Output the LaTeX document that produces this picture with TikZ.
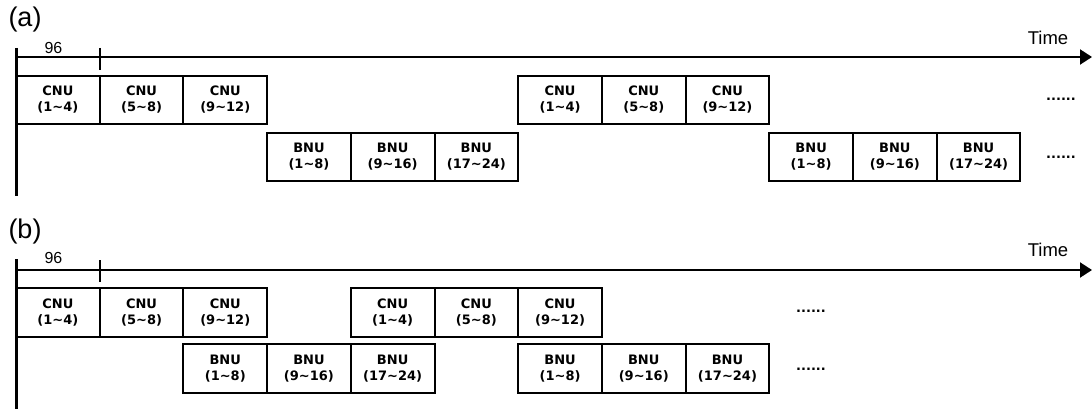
\documentclass[tikz,border=0pt]{standalone}
\usepackage{fontspec}
\setmainfont{Liberation Sans}
\newfontfamily\boxfont{DejaVu Sans}
\usetikzlibrary{positioning,arrows.meta}
\tikzset{
	unitbox/.style={draw, line width=2pt, minimum width=83.7pt, minimum height=48.5pt, inner sep=0pt, outer sep=0pt, align=center, font=\boxfont\bfseries\fontsize{13}{16}\selectfont},
	timeaxis/.style={line width=2pt, -{Triangle[length=12pt,width=15pt]}},
	startaxis/.style={line width=3pt},
	tickline/.style={line width=2pt},
	moredots/.style={font=\boxfont\bfseries\fontsize{13}{14}\selectfont, inner sep=0pt},
	axislabel/.style={font=\fontsize{16}{18}\selectfont, inner sep=0pt},
	timelabel/.style={font=\fontsize{18.5}{20}\selectfont, inner sep=0pt},
	partlabel/.style={font=\fontsize{27}{29}\selectfont, inner sep=0pt}
}

\begin{document}
\begin{tikzpicture}[x=1pt, y=-1pt]
		%%%%% START %%%%%
		\useasboundingbox (0, 0) rectangle (1092, 409);
		
		% (a)
		\node[partlabel] (alabel) at (25, 20) {(a)};
		\coordinate (aorig) at (16, 57);
		\coordinate (aend) at (1092, 57);
		\coordinate (atop) at (16, 48);
		\coordinate (abot) at (16, 196);
		\coordinate (aticktop) at (99.7, 48);
		\coordinate (atickbot) at (99.7, 70);
		\draw[timeaxis] (aorig) -- (aend);
		\draw[startaxis] (atop) -- (abot);
		\draw[tickline] (aticktop) -- (atickbot);
		\node[axislabel] (aperiod) at (53.5, 48) {96};
		\node[timelabel] (atime) at (1048, 38) {Time};
		
		\node[unitbox] (acnu1) at (57.85, 100) {CNU\\(1\textasciitilde4)};
		\node[unitbox, right=0pt of acnu1] (acnu2) {CNU\\(5\textasciitilde8)};
		\node[unitbox, right=0pt of acnu2] (acnu3) {CNU\\(9\textasciitilde12)};
		\node[unitbox] (acnu4) at (560.05, 100) {CNU\\(1\textasciitilde4)};
		\node[unitbox, right=0pt of acnu4] (acnu5) {CNU\\(5\textasciitilde8)};
		\node[unitbox, right=0pt of acnu5] (acnu6) {CNU\\(9\textasciitilde12)};
		
		\node[unitbox] (abnu1) at (308.95, 157) {BNU\\(1\textasciitilde8)};
		\node[unitbox, right=0pt of abnu1] (abnu2) {BNU\\(9\textasciitilde16)};
		\node[unitbox, right=0pt of abnu2] (abnu3) {BNU\\(17\textasciitilde24)};
		\node[unitbox] (abnu4) at (811.15, 157) {BNU\\(1\textasciitilde8)};
		\node[unitbox, right=0pt of abnu4] (abnu5) {BNU\\(9\textasciitilde16)};
		\node[unitbox, right=0pt of abnu5] (abnu6) {BNU\\(17\textasciitilde24)};
		
		\node[moredots] (adots1) at (1061, 99) {......};
		\node[moredots] (adots2) at (1061, 157) {......};
		
		% (b)
		\node[partlabel] (blabel) at (25, 232) {(b)};
		\coordinate (borig) at (16, 270);
		\coordinate (bend) at (1092, 270);
		\coordinate (btop) at (16, 259);
		\coordinate (bbot) at (16, 409);
		\coordinate (bticktop) at (99.7, 260);
		\coordinate (btickbot) at (99.7, 282);
		\draw[timeaxis] (borig) -- (bend);
		\draw[startaxis] (btop) -- (bbot);
		\draw[tickline] (bticktop) -- (btickbot);
		\node[axislabel] (bperiod) at (53.5, 258) {96};
		\node[timelabel] (btime) at (1048, 250) {Time};
		
		\node[unitbox] (bcnu1) at (57.85, 312.5) {CNU\\(1\textasciitilde4)};
		\node[unitbox, right=0pt of bcnu1] (bcnu2) {CNU\\(5\textasciitilde8)};
		\node[unitbox, right=0pt of bcnu2] (bcnu3) {CNU\\(9\textasciitilde12)};
		\node[unitbox] (bcnu4) at (392.65, 312.5) {CNU\\(1\textasciitilde4)};
		\node[unitbox, right=0pt of bcnu4] (bcnu5) {CNU\\(5\textasciitilde8)};
		\node[unitbox, right=0pt of bcnu5] (bcnu6) {CNU\\(9\textasciitilde12)};
		
		\node[unitbox] (bbnu1) at (225.25, 368.5) {BNU\\(1\textasciitilde8)};
		\node[unitbox, right=0pt of bbnu1] (bbnu2) {BNU\\(9\textasciitilde16)};
		\node[unitbox, right=0pt of bbnu2] (bbnu3) {BNU\\(17\textasciitilde24)};
		\node[unitbox] (bbnu4) at (560.05, 368.5) {BNU\\(1\textasciitilde8)};
		\node[unitbox, right=0pt of bbnu4] (bbnu5) {BNU\\(9\textasciitilde16)};
		\node[unitbox, right=0pt of bbnu5] (bbnu6) {BNU\\(17\textasciitilde24)};
		
		\node[moredots] (bdots1) at (811, 311) {......};
		\node[moredots] (bdots2) at (811, 369) {......};
		
		%%%%% END %%%%%
	\end{tikzpicture}
\end{document}
